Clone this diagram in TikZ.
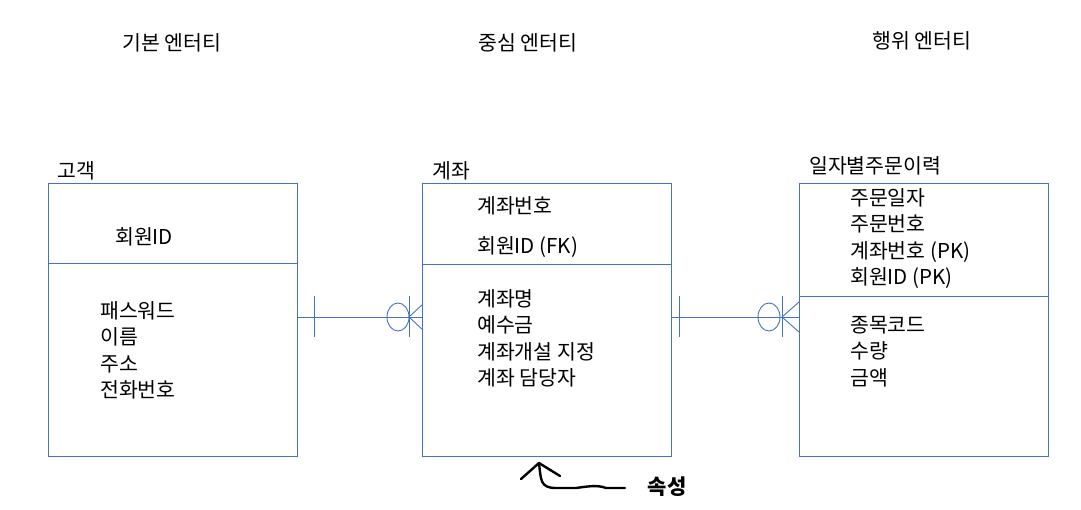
\documentclass[tikz,border=0pt]{standalone}
\usepackage{fontspec}
\setmainfont{Noto Sans CJK KR}
\definecolor{lc}{HTML}{4472C4}
\begin{document}
\begin{tikzpicture}[x=1pt,y=-1pt,
  ln/.style={draw=lc, line width=0.9pt},
  box/.style={ln, minimum width=249pt, minimum height=273pt, anchor=north west, inner sep=0},
  tx/.style={anchor=west, inner sep=0, font=\fontsize{20.5}{26.5}\selectfont},
  ttl/.style={inner sep=0, font=\fontsize{20.5}{26}\selectfont}]
\useasboundingbox (0,0) rectangle (1081,510);
\node[ttl] (t1) at (172,43) {기본 엔터티};
\node[ttl] (t2) at (528,43) {중심 엔터티};
\node[ttl] (t3) at (922,41) {행위 엔터티};
\node[box] (b1) at (48,183) {};
\node[box] (b2) at (422,183) {};
\node[box] (b3) at (799,183) {};
\draw[ln] (48,263) -- (297,263);
\draw[ln] (422,264) -- (671,264);
\draw[ln] (799,296) -- (1048,296);
\node[tx] (l1) at (57,171) {고객};
\node[tx] (l2) at (432,171) {계좌};
\node[tx] (l3) at (809,166) {일자별주문이력};
\node[tx] (a1) at (115,237) {회원ID};
\node[tx,align=left,anchor=north west] (a2) at (100,301) {패스워드\\이름\\주소\\전화번호};
\node[tx] (m1) at (477,206) {계좌번호};
\node[tx] (m2) at (477,247) {회원ID (FK)};
\node[tx,align=left,anchor=north west] (m3) at (477,289) {계좌명\\예수금\\계좌개설 지정\\계좌 담당자};
\node[tx,align=left,anchor=north west] (r1) at (850,188) {주문일자\\주문번호\\계좌번호 (PK)\\회원ID (PK)};
\node[tx,align=left,anchor=north west] (r2) at (850,316) {종목코드\\수량\\금액};
% connectors
\coordinate (c1) at (297,317); \coordinate (c2) at (422,317);
\draw[ln] (c1) -- (c2);
\draw[ln] (314,296) -- (314,337);
\draw[ln] (398,317) ellipse (11 and 14);
\draw[ln] (409,296) -- (409,337);
\draw[ln] (423,304) -- (409,317) -- (423,330);
\coordinate (c3) at (671,317); \coordinate (c4) at (799,317);
\draw[ln] (c3) -- (c4);
\draw[ln] (679,296) -- (679,337);
\draw[ln] (769,317) ellipse (11 and 14);
\draw[ln] (782,296) -- (782,337);
\draw[ln] (799,302) -- (782,317) -- (799,332);
% hand arrow
\draw[line width=2.4pt, line cap=round, line join=round] (521,479) -- (539,463) -- (560,476);
\draw[line width=2.4pt, line cap=round, line join=round] (539,463) .. controls (541,480) and (540,488) .. (556,488) -- (576,488) .. controls (590,486) and (598,485) .. (606,488) -- (625,488);
\node[inner sep=0, font=\fontsize{21}{24}\selectfont\bfseries] (s) at (667,487) {속성};
\end{tikzpicture}
\end{document}
